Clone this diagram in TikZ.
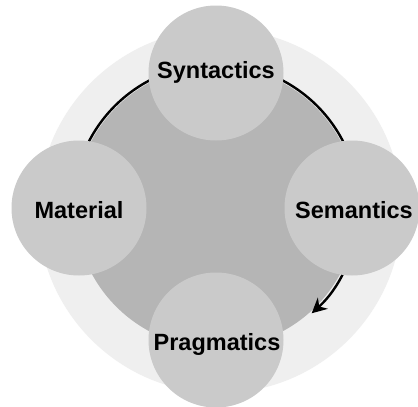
\documentclass[tikz,border=0pt]{standalone}
\usepackage{fontspec}
\setmainfont{Liberation Sans}
\usetikzlibrary{arrows.meta}
\definecolor{outerc}{HTML}{EFEFEF}
\definecolor{hubc}{HTML}{B5B5B5}
\definecolor{satc}{HTML}{CACACA}
\tikzset{
  sat/.style={circle, fill=satc, minimum size=135pt, inner sep=0pt},
  lbl/.style={font=\fontsize{23.5}{23.5}\selectfont\bfseries, text=black},
  cyc/.style={draw=black, line width=2.4pt},
}
\begin{document}
\begin{tikzpicture}[x=1pt,y=-1pt]
\useasboundingbox (0,0) rectangle (418,407);
\fill[white] (0,0) rectangle (418,407);
\node[circle, fill=outerc, minimum size=364pt, inner sep=0pt] (outer) at (220,211) {};
\node[circle, fill=hubc, minimum size=282pt, inner sep=0pt] (hub) at (216,207) {};
\draw[cyc] ([shift={(175:143pt)}]hub.center) arc[start angle=175, end angle=95, radius=143pt];
\draw[cyc] ([shift={(85:143pt)}]hub.center) arc[start angle=85, end angle=5, radius=143pt];
\draw[cyc, -{Stealth[length=15pt,width=15pt]}] ([shift={(-5:143pt)}]hub.center) arc[start angle=-5, end angle=-48, radius=143pt];
\node[sat] (syn) at (216,73) {};
\node[sat] (mat) at (79,208) {};
\node[sat] (sem) at (352,208) {};
\node[sat] (pra) at (216,340) {};
\node[lbl] at (syn) [yshift=1pt] {Syntactics};
\node[lbl] at (mat) [yshift=-2pt] {Material};
\node[lbl] at (sem) [xshift=2pt, yshift=-2pt] {Semantics};
\node[lbl] at (pra) [xshift=1pt, yshift=-4pt] {Pragmatics};
\end{tikzpicture}
\end{document}
